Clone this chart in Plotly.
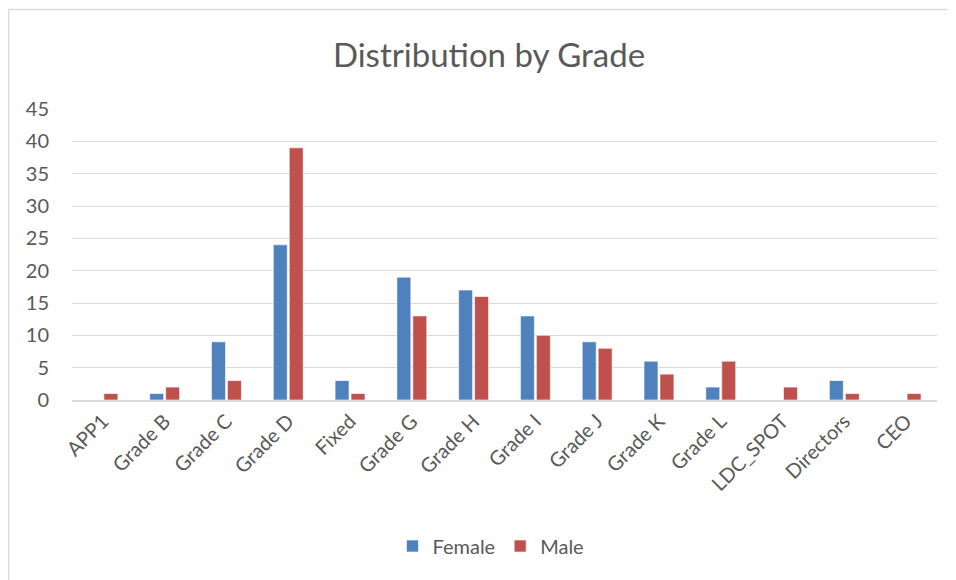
import plotly.graph_objects as go

categories = ["APP1", "Grade B", "Grade C", "Grade D", "Fixed", "Grade G", "Grade H",
              "Grade I", "Grade J", "Grade K", "Grade L", "LDC_SPOT", "Directors", "CEO"]
female = [0, 1, 9, 24, 3, 19, 17, 13, 9, 6, 2, 0, 3, 0]
male = [1, 2, 3, 39, 1, 13, 16, 10, 8, 4, 6, 2, 1, 1]
y_ticks = [0, 5, 10, 15, 20, 25, 30, 35, 40, 45]

OFF = 8  # page body margin
W, H = 956 - OFF, 580 - OFF
L, R, T, B = 72 - OFF, 19, 109 - OFF, 180
pw, ph = W - L - R, H - T - B

def px_x(x):
    return (x - OFF - L) / pw

def px_y(y):
    return (H - B - (y - OFF)) / ph

FONT = "Lato, 'Open Sans', sans-serif"
GRAY = "#595959"

fig = go.Figure()
fig.add_trace(go.Bar(name="Female", x=categories, y=female,
                     marker=dict(color="#4F81BD", line=dict(color="rgba(255,255,255,0.6)", width=1))))
fig.add_trace(go.Bar(name="Male", x=categories, y=male,
                     marker=dict(color="#C0504D", line=dict(color="rgba(255,255,255,0.6)", width=1))))

fig.update_layout(
    width=W, height=H,
    margin=dict(l=L, r=R, t=T, b=B, pad=0),
    paper_bgcolor="white", plot_bgcolor="white",
    barmode="group", bargap=0.484, bargroupgap=0.125,
    font=dict(family=FONT, color=GRAY, size=20),
    title=dict(text="Distribution by Grade", x=px_x(489), xanchor="center", xref="paper",
               y=1 - (55 - OFF) / H, yanchor="middle",
               font=dict(size=33, color=GRAY, family=FONT)),
    showlegend=True,
    legend=dict(orientation="h", x=px_x(491), xanchor="center",
                y=px_y(546), yanchor="middle", font=dict(size=20, color=GRAY),
                itemwidth=30, traceorder="normal"),
    xaxis=dict(tickangle=-45, showgrid=False, showline=True, linecolor="#D9D9D9",
               linewidth=1.5, ticks="", tickfont=dict(size=20, color=GRAY)),
    yaxis=dict(range=[0, 45], tickvals=y_ticks, showgrid=True, gridcolor="#D9D9D9",
               gridwidth=1, zeroline=False, showline=False, ticks="",
               tickfont=dict(size=20, color=GRAY), ticklabelstandoff=22),
    shapes=[
        dict(type="line", xref="paper", yref="paper", x0=px_x(8.5), x1=px_x(960), y0=px_y(9.5), y1=px_y(9.5),
             line=dict(color="#D9D9D9", width=1.5)),
        dict(type="line", xref="paper", yref="paper", x0=px_x(8.5), x1=px_x(8.5), y0=px_y(9.5), y1=px_y(585),
             line=dict(color="#D9D9D9", width=1.5)),
    ],
)

fig.write_html("out.html")
